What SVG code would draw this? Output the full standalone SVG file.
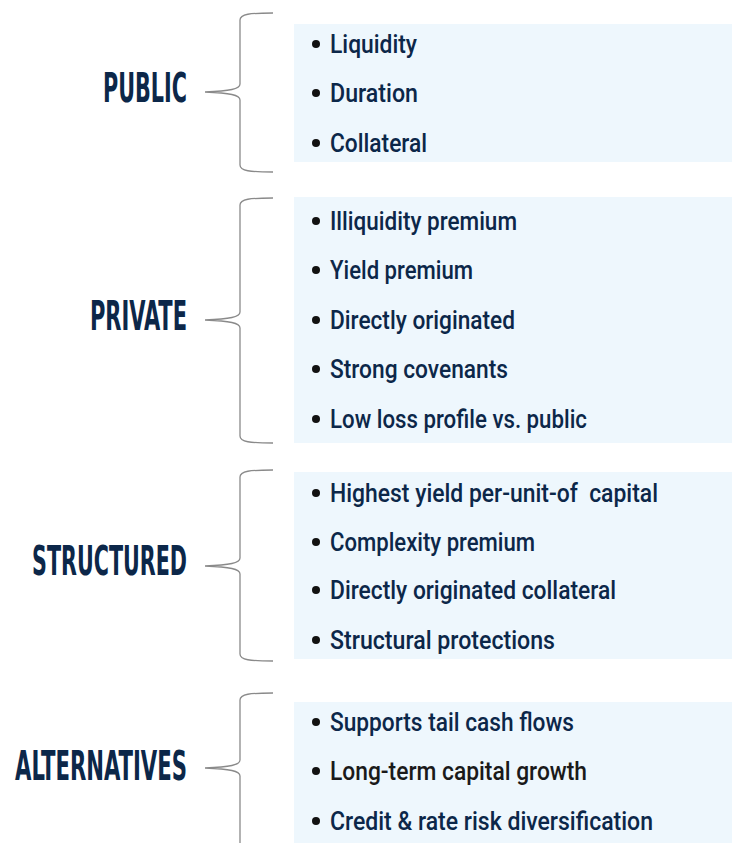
<svg xmlns="http://www.w3.org/2000/svg" width="738" height="843" viewBox="0 0 738 843">
<style>
.bg{fill:#ffffff}
.box{fill:#eef7fd}
.cat{font-family:"DejaVu Sans Condensed","Liberation Sans Narrow","Liberation Sans",sans-serif;font-weight:bold;font-size:40px;fill:#0c2749}
.item{font-family:Roboto,"DejaVu Sans Condensed","Liberation Sans",sans-serif;font-weight:500;font-size:26px;fill:#0c2749}
.blk{fill:#1a1a1a}
.dot{fill:#111111}
.brace{fill:none;stroke:#8a8a8a;stroke-width:1.3}
</style>
<rect class="bg" x="0" y="0" width="738" height="843"/>
<g id="connectors">
<path class="brace" d="M273,13 C250,13 240,14 240,20 L240,84 C240,89 230,91 205,92 C230,93 240,95 240,100 L240,165 C240,171 250,172 273,172"/>
<path class="brace" d="M273,198 C250,198 240,199 240,205 L240,312 C240,317 230,319 205,320 C230,321 240,323 240,328 L240,436 C240,442 250,443 273,443"/>
<path class="brace" d="M273,470 C250,470 240,471 240,477 L240,558 C240,563 230,565 205,566 C230,567 240,569 240,574 L240,654 C240,660 250,661 273,661"/>
<path class="brace" d="M273,693 C250,693 240,694 240,700 L240,760 C240,765 230,767 205,768 C230,769 240,771 240,776 L240,850"/>
</g>
<g id="public">
<text class="cat" x="103" y="102" textLength="84" lengthAdjust="spacingAndGlyphs">PUBLIC</text>
<rect class="box" x="294" y="24" width="438" height="138"/>
<circle class="dot" cx="316" cy="44" r="4"/>
<text class="item" x="330" y="53" textLength="87" lengthAdjust="spacingAndGlyphs">Liquidity</text>
<circle class="dot" cx="316" cy="93" r="4"/>
<text class="item" x="330" y="102" textLength="88" lengthAdjust="spacingAndGlyphs">Duration</text>
<circle class="dot" cx="316" cy="143" r="4"/>
<text class="item" x="330" y="152" textLength="97" lengthAdjust="spacingAndGlyphs">Collateral</text>
</g>
<g id="private">
<text class="cat" x="90" y="330" textLength="97" lengthAdjust="spacingAndGlyphs">PRIVATE</text>
<rect class="box" x="294" y="197" width="438" height="246"/>
<circle class="dot" cx="316" cy="221" r="4"/>
<text class="item" x="330" y="230" textLength="187" lengthAdjust="spacingAndGlyphs">Illiquidity premium</text>
<circle class="dot" cx="316" cy="270" r="4"/>
<text class="item" x="330" y="279" textLength="143" lengthAdjust="spacingAndGlyphs">Yield premium</text>
<circle class="dot" cx="316" cy="320" r="4"/>
<text class="item" x="330" y="329" textLength="185" lengthAdjust="spacingAndGlyphs">Directly originated</text>
<circle class="dot" cx="316" cy="369" r="4"/>
<text class="item" x="330" y="378" textLength="178" lengthAdjust="spacingAndGlyphs">Strong covenants</text>
<circle class="dot" cx="316" cy="419" r="4"/>
<text class="item" x="330" y="428" textLength="257" lengthAdjust="spacingAndGlyphs">Low loss profile vs. public</text>
</g>
<g id="structured">
<text class="cat" x="32" y="575" textLength="155" lengthAdjust="spacingAndGlyphs">STRUCTURED</text>
<rect class="box" x="294" y="472" width="438" height="187"/>
<circle class="dot" cx="316" cy="493" r="4"/>
<text class="item" x="330" y="502" textLength="328" lengthAdjust="spacingAndGlyphs" xml:space="preserve">Highest yield per-unit-of  capital</text>
<circle class="dot" cx="316" cy="542" r="4"/>
<text class="item" x="330" y="551" textLength="205" lengthAdjust="spacingAndGlyphs">Complexity premium</text>
<circle class="dot" cx="316" cy="590" r="4"/>
<text class="item" x="330" y="599" textLength="286" lengthAdjust="spacingAndGlyphs">Directly originated collateral</text>
<circle class="dot" cx="316" cy="640" r="4"/>
<text class="item" x="330" y="649" textLength="225" lengthAdjust="spacingAndGlyphs">Structural protections</text>
</g>
<g id="alternatives">
<text class="cat" x="15" y="780" textLength="172" lengthAdjust="spacingAndGlyphs">ALTERNATIVES</text>
<rect class="box" x="294" y="702" width="438" height="141"/>
<circle class="dot" cx="316" cy="722" r="4"/>
<text class="item" x="330" y="731" textLength="244" lengthAdjust="spacingAndGlyphs">Supports tail cash flows</text>
<circle class="dot" cx="316" cy="771" r="4"/>
<text class="item blk" x="330" y="780" textLength="257" lengthAdjust="spacingAndGlyphs">Long-term capital growth</text>
<circle class="dot" cx="316" cy="821" r="4"/>
<text class="item" x="330" y="830" textLength="323" lengthAdjust="spacingAndGlyphs">Credit &amp; rate risk diversification</text>
</g>
</svg>
